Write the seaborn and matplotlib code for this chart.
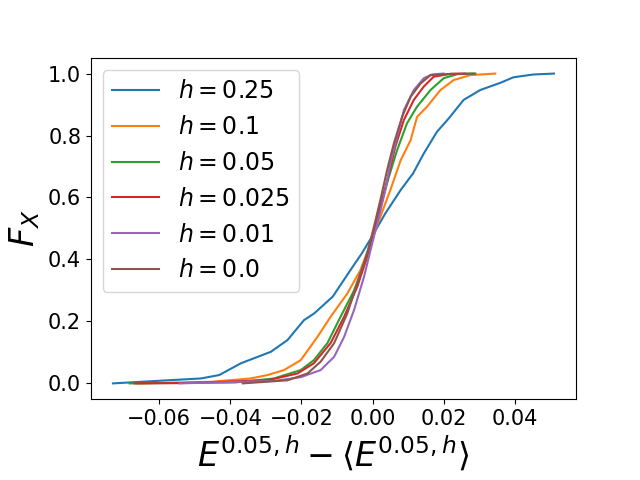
import matplotlib
matplotlib.use("Agg")
import matplotlib.pyplot as plt
import seaborn as sns
import pandas as pd

# quantiles (x value, cumulative fraction)
h_labels = ["0.25", "0.1", "0.05", "0.025", "0.01", "0.0"]

x_h025 = [-0.0730, -0.0482, -0.0431, -0.0370, -0.0286, -0.0239, -0.0193, -0.0164, -0.0112,
          -0.0062, -0.0030, -0.0002, 0.0036, 0.0079, 0.0114, 0.0144, 0.0181, 0.0214, 0.0256,
          0.0303, 0.0359, 0.0396, 0.0452, 0.0510]
f_h025 = [0.0, 0.016, 0.027, 0.065, 0.102, 0.14, 0.204, 0.226, 0.28, 0.366, 0.42, 0.473,
          0.549, 0.624, 0.678, 0.742, 0.812, 0.855, 0.915, 0.947, 0.97, 0.988, 0.997, 1.0]

x_h01 = [-0.0660, -0.0454, -0.0342, -0.0295, -0.0249, -0.0202, -0.0155, -0.0118, -0.0071,
         -0.0034, -0.0006, 0.0022, 0.0050, 0.0079, 0.0107, 0.0125, 0.0153, 0.0191, 0.0228,
         0.0275, 0.0345]
f_h01 = [0.0, 0.005, 0.016, 0.027, 0.043, 0.075, 0.15, 0.215, 0.29, 0.366, 0.452, 0.538,
         0.624, 0.72, 0.785, 0.86, 0.893, 0.947, 0.979, 0.995, 1.0]

x_h005 = [-0.0683, -0.0386, -0.0277, -0.0202, -0.0165, -0.0127, -0.0090, -0.0052, -0.0024,
          -0.0001, 0.0022, 0.0046, 0.0069, 0.0097, 0.0125, 0.0163, 0.0200, 0.0238, 0.0284]
f_h005 = [0.0, 0.003, 0.016, 0.043, 0.075, 0.13, 0.215, 0.30, 0.387, 0.473, 0.57, 0.667,
          0.753, 0.84, 0.893, 0.947, 0.985, 0.998, 1.0]

x_h0025 = [-0.0669, -0.0538, -0.0295, -0.0211, -0.0165, -0.0118, -0.0080, -0.0043, -0.0015,
           0.0004, 0.0027, 0.0046, 0.0064, 0.0088, 0.0116, 0.0144, 0.0172, 0.0219, 0.0261]
f_h0025 = [0.0, 0.001, 0.01, 0.032, 0.065, 0.13, 0.215, 0.312, 0.409, 0.495, 0.592, 0.678,
           0.764, 0.85, 0.915, 0.958, 0.99, 0.999, 1.0]

x_h001 = [-0.0543, -0.0277, -0.0202, -0.0146, -0.0108, -0.0080, -0.0052, -0.0024, -0.0001,
          0.0018, 0.0036, 0.0050, 0.0069, 0.0088, 0.0116, 0.0144, 0.0167, 0.0200]
f_h001 = [0.0, 0.008, 0.02, 0.043, 0.086, 0.15, 0.237, 0.344, 0.452, 0.538, 0.624, 0.71,
          0.796, 0.882, 0.947, 0.985, 0.997, 1.0]

x_h0 = [-0.0365, -0.0239, -0.0183, -0.0146, -0.0108, -0.0071, -0.0043, -0.0015, 0.0004,
        0.0022, 0.0041, 0.0060, 0.0083, 0.0107, 0.0135, 0.0163, 0.0219, 0.0289]
f_h0 = [0.0, 0.01, 0.032, 0.07, 0.13, 0.226, 0.323, 0.42, 0.506, 0.592, 0.689, 0.775,
        0.86, 0.925, 0.968, 0.995, 0.999, 1.0]

xs = [x_h025, x_h01, x_h005, x_h0025, x_h001, x_h0]
fs = [f_h025, f_h01, f_h005, f_h0025, f_h001, f_h0]

rows = []
for lab, x, f in zip(h_labels, xs, fs):
    for xi, fi in zip(x, f):
        rows.append({"x": xi, "F": fi, "h": f"$h = {lab}$"})
df = pd.DataFrame(rows)
order = [f"$h = {lab}$" for lab in h_labels]

fig, ax = plt.subplots(figsize=(6.4, 4.8), dpi=100)
sns.lineplot(data=df, x="x", y="F", hue="h", hue_order=order, palette="tab10",
             sort=False, estimator=None, linewidth=1.5, ax=ax)

ax.set_xlabel(r"$E^{0.05,h} - \langle E^{0.05,h} \rangle$", fontsize=24)
ax.set_ylabel(r"$F_X$", fontsize=24)
ax.tick_params(labelsize=15)
ax.set_xticks([-0.06, -0.04, -0.02, 0.0, 0.02, 0.04])
ax.set_yticks([0.0, 0.2, 0.4, 0.6, 0.8, 1.0])
ax.legend(loc="upper left", fontsize=17, title=None)

plt.subplots_adjust(left=0.142, right=0.9, top=0.879, bottom=0.169)
plt.savefig("out.png", dpi=100)
